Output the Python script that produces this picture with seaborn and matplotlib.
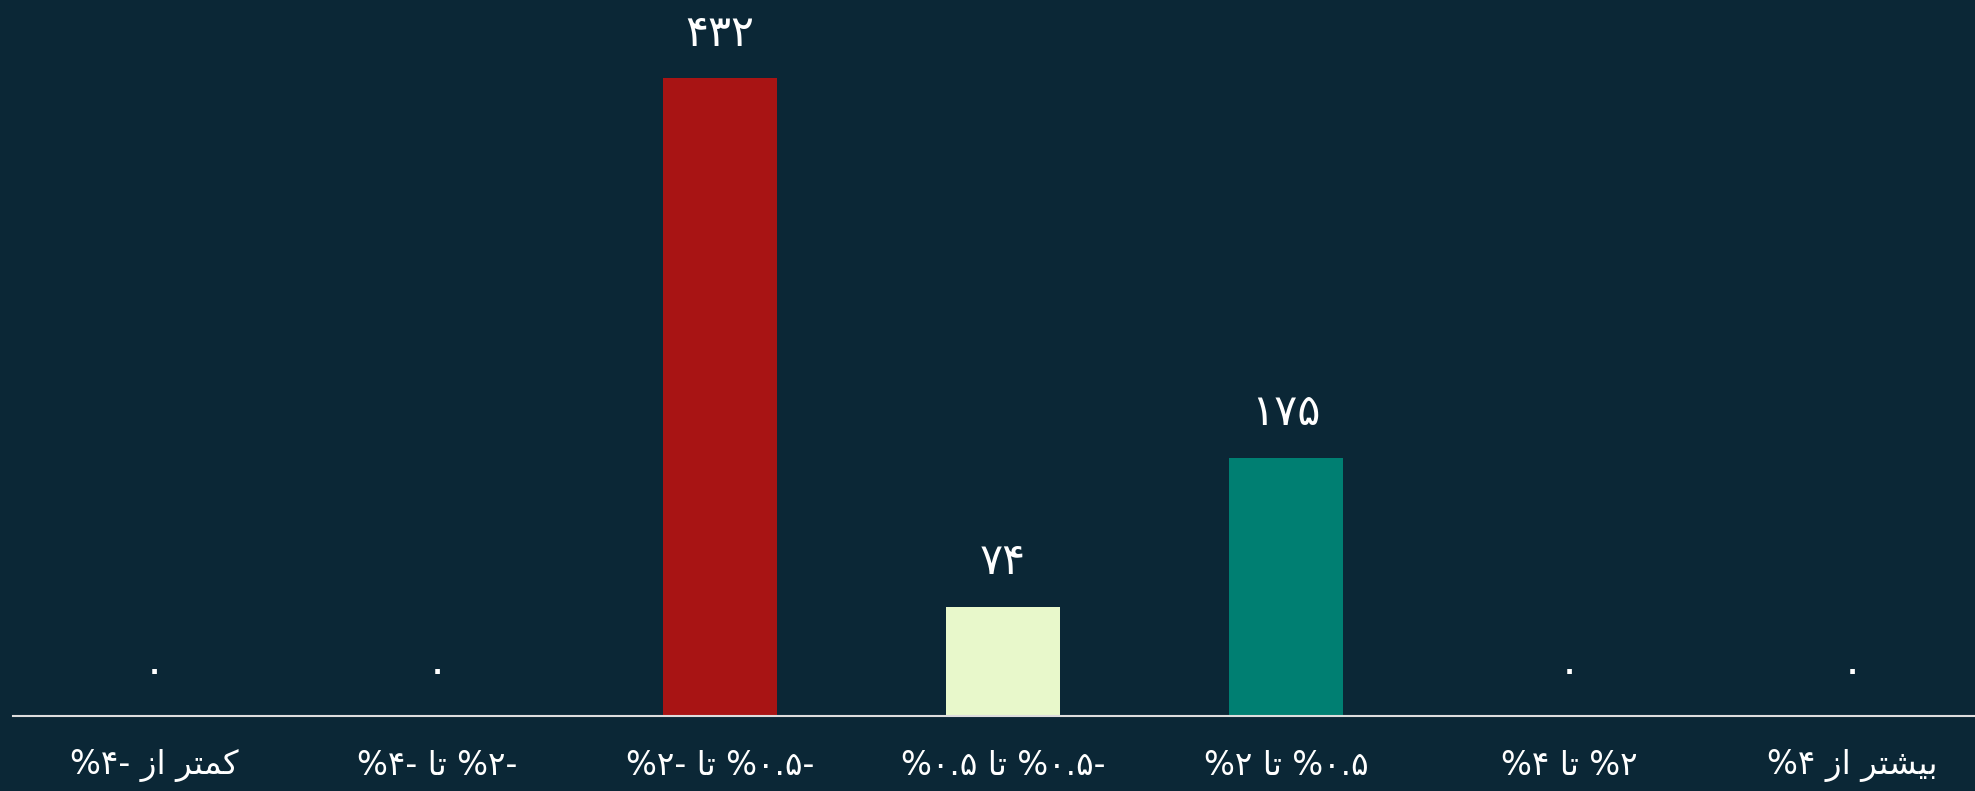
import matplotlib
matplotlib.use("Agg")
import matplotlib.pyplot as plt
import seaborn as sns

# chart data (labels in logical Persian order)
categories = [
    "کمتر از -۴%",
    "-۲% تا -۴%",
    "-۰.۵% تا -۲%",
    "-۰.۵% تا ۰.۵%",
    "۰.۵% تا ۲%",
    "۲% تا ۴%",
    "بیشتر از ۴%",
]
counts = [0, 0, 432, 74, 175, 0, 0]
bar_colors = ["#a81414", "#a81414", "#a81414", "#e8f8cb", "#007f72", "#007f72", "#007f72"]

BG = "#0b2736"

# minimal persian shaping: (isolated, final, initial, medial)
FORMS = {
    "ا": ("\ufe8d", "\ufe8e", None, None),
    "ر": ("\ufead", "\ufeae", None, None),
    "ز": ("\ufeaf", "\ufeb0", None, None),
    "ب": ("\ufe8f", "\ufe90", "\ufe91", "\ufe92"),
    "ت": ("\ufe95", "\ufe96", "\ufe97", "\ufe98"),
    "ش": ("\ufeb5", "\ufeb6", "\ufeb7", "\ufeb8"),
    "م": ("\ufee1", "\ufee2", "\ufee3", "\ufee4"),
    "ک": ("\ufb8e", "\ufb8f", "\ufb90", "\ufb91"),
    "ی": ("\ufbfc", "\ufbfd", "\ufbfe", "\ufbff"),
}


def joins_left(ch):
    return ch in FORMS and FORMS[ch][2] is not None


def shape_word(w):
    out = []
    for i, ch in enumerate(w):
        if ch not in FORMS:
            out.append(ch)
            continue
        prev_j = i > 0 and joins_left(w[i - 1])
        next_j = i < len(w) - 1 and w[i + 1] in FORMS and joins_left(ch)
        iso, fin, ini, med = FORMS[ch]
        if prev_j and next_j:
            out.append(med)
        elif prev_j:
            out.append(fin)
        elif next_j:
            out.append(ini)
        else:
            out.append(iso)
    return "".join(reversed(out))


def visual(text):
    # right-to-left line -> left-to-right visual order
    toks = []
    for t in text.split(" "):
        if t and t[0] in FORMS:
            toks.append(shape_word(t))
        else:
            sign = "-" if t.startswith("-") else ""
            pct = "%" if t.endswith("%") else ""
            core = t.strip("-%")
            toks.append(pct + core + sign)
    return " ".join(reversed(toks))


def fa_num(v):
    return str(v).translate(str.maketrans("0123456789", "۰۱۲۳۴۵۶۷۸۹"))


plt.rcParams["font.family"] = ["DejaVu Sans"]

fig = plt.figure(figsize=(19.75, 7.91), dpi=100, facecolor=BG)
ax = fig.add_axes([12.5 / 1975, 75 / 791, 1981 / 1975, 716 / 791])
ax.set_facecolor(BG)

sns.barplot(x=categories, y=counts, hue=categories, palette=bar_colors,
            legend=False, width=0.405, saturation=1, ax=ax)

for c in ax.containers:
    ax.bar_label(c, labels=[fa_num(int(b.get_height())) for b in c],
                 padding=17, color="white", fontsize=31)

ax.set_xlim(-0.5, 6.5)
ax.set_ylim(0, 485)
ax.set_xticks(range(len(categories)))
ax.set_xticklabels([visual(c) for c in categories], color="white", fontsize=23.5)
ax.tick_params(axis="x", length=0, pad=24)
ax.set_yticks([])
ax.set_xlabel("")
ax.set_ylabel("")
for s in ["top", "left", "right"]:
    ax.spines[s].set_visible(False)
ax.spines["bottom"].set_color("#dddddd")
ax.spines["bottom"].set_linewidth(1.5)

fig.savefig("out.png", dpi=100, facecolor=BG)
